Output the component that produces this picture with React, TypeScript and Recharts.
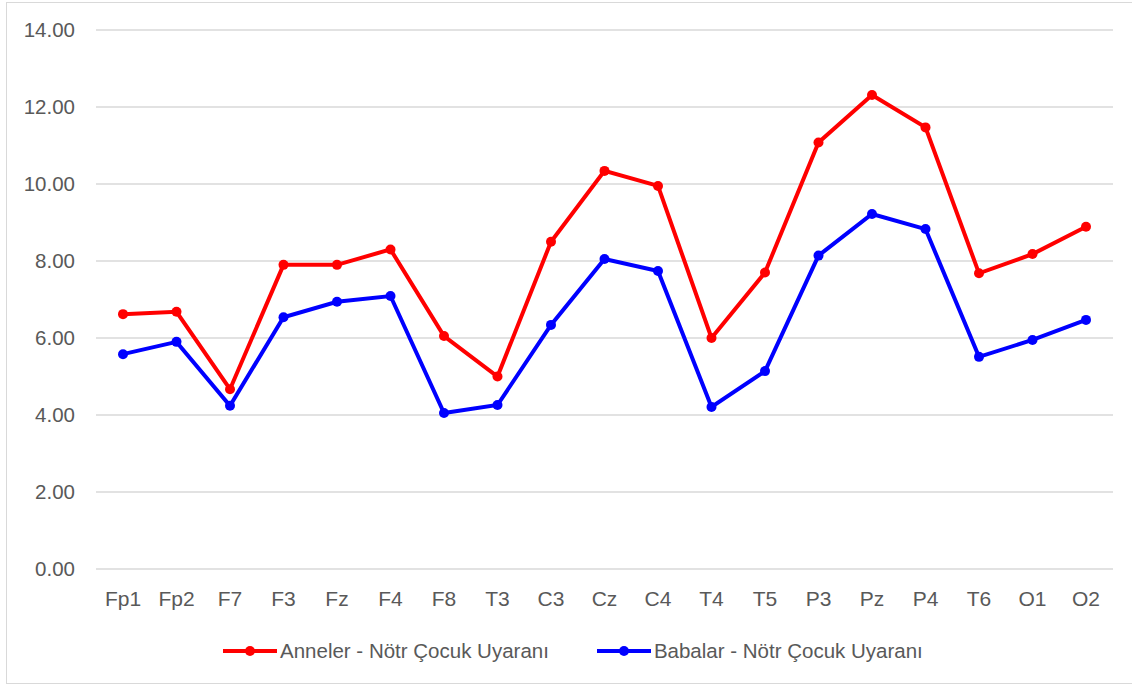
import React from 'react';
import { LineChart, Line, XAxis, YAxis, CartesianGrid, Legend } from 'recharts';

const categories = ['Fp1', 'Fp2', 'F7', 'F3', 'Fz', 'F4', 'F8', 'T3', 'C3', 'Cz', 'C4', 'T4', 'T5', 'P3', 'Pz', 'P4', 'T6', 'O1', 'O2'];
const anneler = [6.62, 6.68, 4.67, 7.9, 7.9, 8.3, 6.05, 5.0, 8.5, 10.34, 9.95, 6.0, 7.7, 11.08, 12.31, 11.47, 7.68, 8.18, 8.89];
const babalar = [5.58, 5.9, 4.24, 6.54, 6.94, 7.09, 4.05, 4.26, 6.34, 8.05, 7.74, 4.21, 5.14, 8.14, 9.22, 8.83, 5.51, 5.95, 6.47];
const yTicks = [0, 2, 4, 6, 8, 10, 12, 14];
const seriesNames = ['Anneler - Nötr Çocuk Uyaranı', 'Babalar - Nötr Çocuk Uyaranı'];
const seriesColors = ['#ff0000', '#0000ff'];

const data = categories.map((c, i) => ({ name: c, a: anneler[i], b: babalar[i] }));

const FONT = '"Liberation Sans", Arial, sans-serif';
const TEXT = '#595959';

function LegendIcon({ color }: { color: string }) {
  return (
    <svg width={54} height={12} style={{ display: 'block' }}>
      <line x1={0} y1={6} x2={54} y2={6} stroke={color} strokeWidth={4} />
      <circle cx={27} cy={6} r={5} fill={color} />
    </svg>
  );
}

function CustomLegend() {
  return (
    <div style={{ height: 70, display: 'flex', alignItems: 'center', paddingLeft: 223, fontFamily: FONT, fontSize: 20.5, color: TEXT }}>
      {seriesNames.map((n, i) => (
        <div key={n} style={{ display: 'flex', alignItems: 'center', marginRight: 48 }}>
          <LegendIcon color={seriesColors[i]} />
          <span style={{ marginLeft: 3, whiteSpace: 'nowrap' }}>{n}</span>
        </div>
      ))}
    </div>
  );
}

export default function App() {
  return (
    <div style={{ position: 'absolute', left: 0, top: 0, width: 1132, height: 686, overflow: 'hidden', background: '#fff' }}>
      <div style={{ position: 'absolute', left: 6, top: 2, width: 1140, height: 680, border: '1px solid #d9d9d9' }} />
      <LineChart width={1132} height={686} data={data} margin={{ top: 30, right: 19, left: 0, bottom: 0 }}>
        <CartesianGrid vertical={false} stroke="#d9d9d9" strokeWidth={1.5} />
        <XAxis
          dataKey="name"
          axisLine={false}
          tickLine={false}
          tickSize={6}
          tickMargin={16}
          height={47}
          padding={{ left: 27, right: 27 }}
          interval={0}
          tick={{ fill: TEXT, fontSize: 21, fontFamily: FONT }}
        />
        <YAxis
          domain={[0, 14]}
          ticks={yTicks}
          width={96}
          axisLine={false}
          tickLine={false}
          tickSize={6}
          tickMargin={15}
          tickFormatter={(v: number) => v.toFixed(2)}
          tick={{ fill: TEXT, fontSize: 20.5, fontFamily: FONT }}
        />
        <Legend verticalAlign="bottom" height={70} content={() => <CustomLegend />} />
        <Line dataKey="a" name={seriesNames[0]} stroke={seriesColors[0]} strokeWidth={4} dot={{ r: 5, fill: seriesColors[0], stroke: 'none' }} activeDot={false} isAnimationActive={false} />
        <Line dataKey="b" name={seriesNames[1]} stroke={seriesColors[1]} strokeWidth={4} dot={{ r: 5, fill: seriesColors[1], stroke: 'none' }} activeDot={false} isAnimationActive={false} />
      </LineChart>
    </div>
  );
}
